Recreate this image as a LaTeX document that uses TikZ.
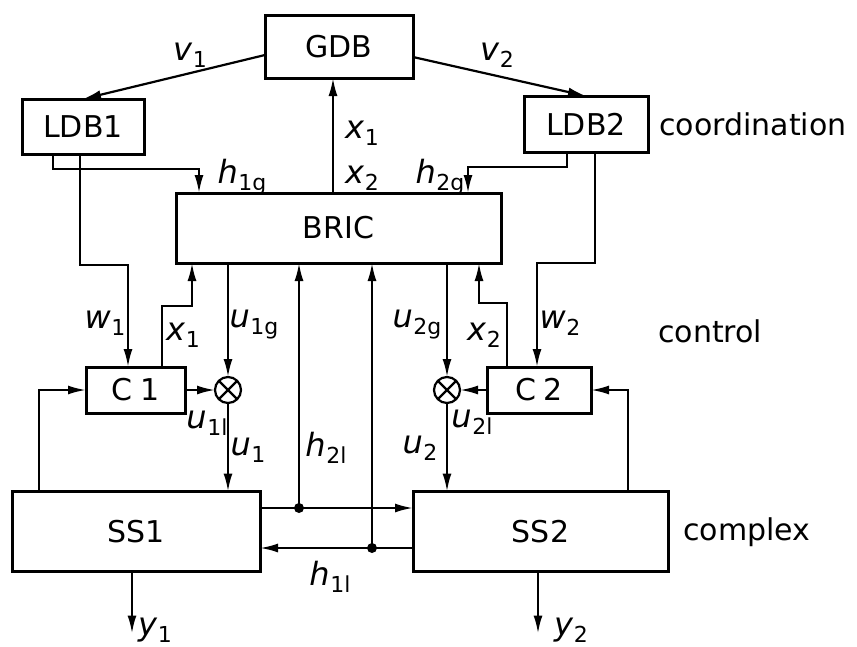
\documentclass[tikz,border=0pt]{standalone}
\usepackage{fontspec}
\setmainfont{DejaVu Sans}
\usetikzlibrary{arrows.meta,calc}
\newcommand\sy[2]{\textit{#1}\kern0.02em\raisebox{-0.4ex}{\fontsize{22}{22}\selectfont #2}}
\begin{document}
\begin{tikzpicture}[x=1pt,y=-1pt,
  box/.style={draw,line width=3pt,inner sep=0pt,outer sep=0pt,font=\fontsize{30}{36}\selectfont},
  con/.style={line width=2.2pt},
  arr/.style={con,-{Latex[length=18pt,width=9pt]}},
  lab/.style={font=\fontsize{32}{36}\selectfont,inner sep=0pt},
  word/.style={font=\fontsize{30}{36}\selectfont,inner sep=0pt,anchor=base west},
  dot/.style={circle,fill,inner sep=0pt,minimum size=10pt},
  mix/.style={circle,draw,line width=2.2pt,minimum size=26pt,inner sep=0pt,outer sep=0pt}
]
\useasboundingbox (0,0) rectangle (857,646);
% boxes
\node[box,minimum width=148pt,minimum height=63pt] (GDB) at (339,46.5) {GDB};
\node[box,minimum width=122pt,minimum height=55pt] (LDB1) at (83,126.5) {LDB1};
\node[box,minimum width=124pt,minimum height=56pt] (LDB2) at (586,124) {LDB2};
\node[box,minimum width=325pt,minimum height=70pt] (BRIC) at (338.5,228) {BRIC};
\node[box,minimum width=99pt,minimum height=46pt] (C1) at (135.5,390) {C\kern0.25em1};
\node[box,minimum width=104pt,minimum height=46pt] (C2) at (539,390) {C\kern0.25em2};
\node[box,minimum width=248pt,minimum height=80pt] (SS1) at (136,531.5) {SS1};
\node[box,minimum width=255pt,minimum height=80pt] (SS2) at (540.5,531.5) {SS2};
\node[mix] (M1) at (228,390) {};
\node[mix] (M2) at (447,390) {};
\draw[con] (M1.north east)--(M1.south west) (M1.north west)--(M1.south east);
\draw[con] (M2.north east)--(M2.south west) (M2.north west)--(M2.south east);
% level words
\node[word] (coord) at (659,135) {coordination};
\node[word] (ctrl) at (658,342) {control};
\node[word] (cplx) at (683,540) {complex};
% connectors
\draw[arr] ([yshift=-8.5pt]GDB.west) -- (LDB1.north);
\draw[arr] ([yshift=-10.5pt]GDB.east) -- (LDB2.north);
\draw[arr] ([xshift=-5.5pt]BRIC.north) -- ([xshift=-6pt]GDB.south);
\draw[arr] ([xshift=31pt]LDB1.south west) -- ++(0,15) -| ([xshift=23pt]BRIC.north west);
\draw[arr] ([xshift=43pt]LDB2.south west) -- ++(0,15) -| ([xshift=-33pt]BRIC.north east);
\draw[arr] ([xshift=58pt]LDB1.south west) -- ++(0,111) -| ([xshift=-7.5pt]C1.north);
\draw[arr] ([xshift=71pt]LDB2.south west) -- ++(0,111) -| ([xshift=-2pt]C2.north);
\draw[arr] ([xshift=76pt]C1.north west) -- ++(0,-61) -| ([xshift=16pt]BRIC.south west);
\draw[arr] ([xshift=20pt]C2.north west) -- ++(0,-64) -| ([xshift=-22pt]BRIC.south east);
\draw[arr] (M1.north |- BRIC.south) -- (M1.north);
\draw[arr] (M2.north |- BRIC.south) -- (M2.north);
\draw[arr] (C1.east) -- (M1.west);
\draw[arr] (C2.west) -- (M2.east);
\draw[arr] (M1.south) -- (M1.south |- SS1.north);
\draw[arr] (M2.south) -- (M2.south |- SS2.north);
\draw[arr] ([xshift=27pt]SS1.north west) |- (C1.west);
\draw[arr] ([xshift=-40pt]SS2.north east) |- (C2.east);
\draw[arr] ([yshift=23.5pt]SS1.east) -- ([yshift=23.5pt]SS2.west);
\draw[arr] ([yshift=-16.5pt]SS2.west) -- ([yshift=-16.5pt]SS1.east);
\node[dot] (d2) at (299,508) {};
\node[dot] (d1) at (372,548) {};
\draw[arr] (d2.center) -- (d2 |- BRIC.south);
\draw[arr] (d1.center) -- (d1 |- BRIC.south);
\draw[arr] ([xshift=-4pt]SS1.south) -- ++(0,62);
\draw[arr] ([xshift=-2.5pt]SS2.south) -- ++(0,62);
% labels
\node[lab] (lv1) at (190,55) {\sy{v}{1}};
\node[lab] (lv2) at (497,55) {\sy{v}{2}};
\node[lab] (lx1t) at (362,133) {\sy{x}{1}};
\node[lab] (lx2t) at (362,178) {\sy{x}{2}};
\node[lab] (lh1g) at (242,177) {\sy{h}{1g}};
\node[lab] (lh2g) at (440,177) {\sy{h}{2g}};
\node[lab] (lw1) at (105,323) {\sy{w}{1}};
\node[lab] (lx1) at (183,335) {\sy{x}{1}};
\node[lab] (lu1g) at (254,325) {\sy{u}{1g}};
\node[lab] (lu1l) at (207,423) {\sy{u}{1l}};
\node[lab] (lu1) at (248,450) {\sy{u}{1}};
\node[lab] (lh2l) at (326,448) {\sy{h}{2l}};
\node[lab] (lh1l) at (330,577) {\sy{h}{1l}};
\node[lab] (ly1) at (155,630) {\sy{y}{1}};
\node[lab] (lu2g) at (417,325) {\sy{u}{2g}};
\node[lab] (lx2) at (484,335) {\sy{x}{2}};
\node[lab] (lw2) at (560,323) {\sy{w}{2}};
\node[lab] (lu2l) at (472,422) {\sy{u}{2l}};
\node[lab] (lu2) at (420,448) {\sy{u}{2}};
\node[lab] (ly2) at (571,630) {\sy{y}{2}};
\end{tikzpicture}
\end{document}
